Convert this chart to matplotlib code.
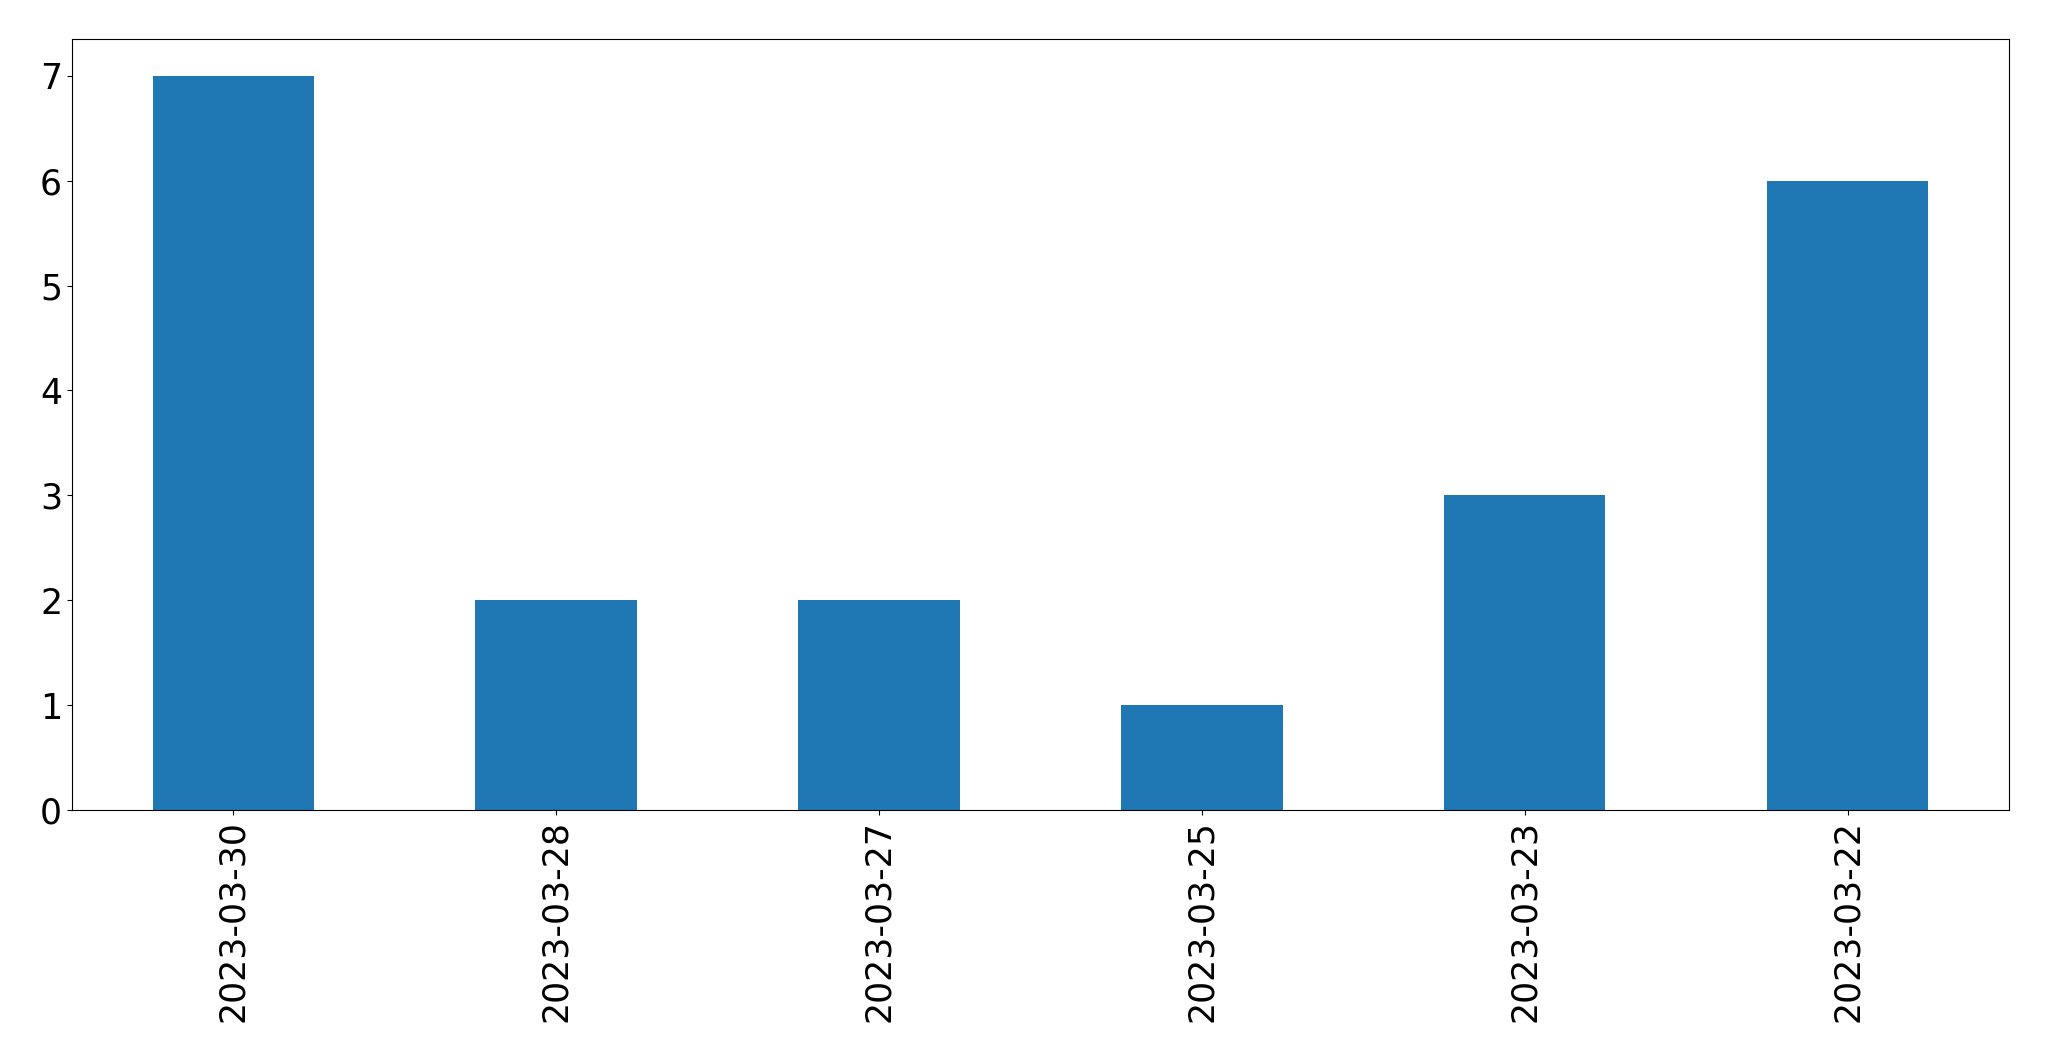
import numpy as np
import matplotlib.pyplot as plt

# fechas y conteos
fechas = ['2023-03-30', '2023-03-28', '2023-03-27', '2023-03-25', '2023-03-23', '2023-03-22']
conteos = [7, 2, 2, 1, 3, 6]

fig = plt.figure(figsize=(20.49, 10.61), dpi=100)
ax = fig.add_axes([0.0351, 0.2366, 0.9454, 0.7266])

x = np.arange(len(fechas))
ax.bar(x, conteos, width=0.5, color='#1f77b4')
ax.set_xlim(-0.5, len(fechas) - 0.5)
ax.set_xticks(x)
ax.set_xticklabels(fechas, rotation=90)
ax.tick_params(axis='both', labelsize=25)

fig.savefig('out.png', dpi=100)
